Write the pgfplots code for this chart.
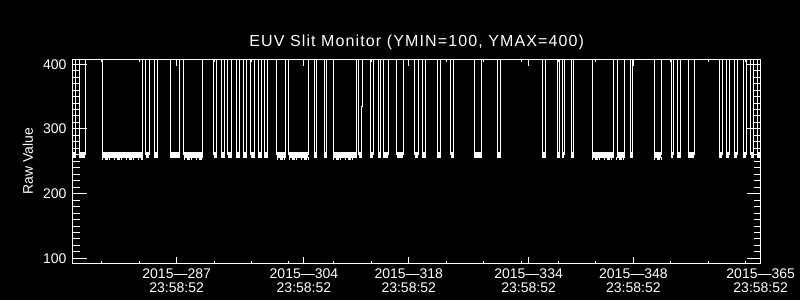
\documentclass[border=0pt]{standalone}
\usepackage{pgfplots}
\usepackage{pgfplotstable}
\pgfplotsset{compat=1.18}
\usepackage{fontspec}
\setmainfont{Liberation Sans}
\newfontfamily\titlefont[LetterSpace=7]{Liberation Sans}

% square wave of the raw value (high state is above the plot range and clipped)
\pgfplotstableread{
x y
273.115 260
273.49 260
273.49 450
274.02 450
274.02 260
274.80 260
274.80 450
277.03 450
277.03 260
282.46 260
282.46 450
282.90 450
282.90 260
283.34 260
283.34 450
284.01 450
284.01 260
284.46 260
284.46 450
286.11 450
286.11 260
287.40 260
287.40 450
287.97 450
287.97 260
290.47 260
290.47 450
291.98 450
291.98 260
292.34 260
292.34 450
292.95 450
292.95 260
293.41 260
293.41 450
293.85 450
293.85 260
294.38 260
294.38 450
294.96 450
294.96 260
295.45 260
295.45 450
295.89 450
295.89 260
296.35 260
296.35 450
296.92 450
296.92 260
297.45 260
297.45 450
297.89 450
297.89 260
298.35 260
298.35 450
298.70 450
298.70 260
299.15 260
299.15 450
300.39 450
300.39 260
301.59 260
301.59 450
301.95 450
301.95 260
304.57 260
304.57 450
305.37 450
305.37 260
305.69 260
305.69 450
306.71 450
306.71 260
307.03 260
307.03 450
307.91 450
307.91 260
311.03 260
311.03 450
311.34 450
311.34 260
311.70 260
311.70 334
311.76 334
311.76 450
312.85 450
312.85 260
313.25 260
313.25 450
313.92 450
313.92 260
314.24 260
314.24 450
314.58 450
314.58 260
315.25 260
315.25 450
316.37 450
316.37 260
317.25 260
317.25 450
318.82 450
318.82 260
319.28 260
319.28 450
319.79 450
319.79 260
320.24 260
320.24 450
321.79 450
321.79 260
322.25 260
322.25 450
323.58 450
323.58 260
323.98 260
323.98 450
326.73 450
326.73 260
327.72 260
327.72 450
329.80 450
329.80 260
330.26 260
330.26 450
335.81 450
335.81 260
336.27 260
336.27 450
337.81 450
337.81 260
338.18 260
338.18 450
338.48 450
338.48 260
338.75 260
338.75 450
339.68 450
339.68 260
340.00 260
340.00 450
342.49 450
342.49 260
345.34 260
345.34 450
345.83 450
345.83 260
346.85 260
346.85 450
347.56 450
347.56 260
347.92 260
347.92 450
350.76 450
350.76 260
351.75 260
351.75 450
353.03 450
353.03 260
353.35 260
353.35 450
353.83 450
353.83 260
354.29 260
354.29 450
355.30 450
355.30 260
356.11 260
356.11 450
359.44 450
359.44 260
359.84 260
359.84 450
360.38 450
360.38 260
360.83 260
360.83 450
361.45 450
361.45 260
361.85 260
361.85 450
362.65 450
362.65 260
363.10 260
363.10 450
363.68 450
363.68 260
364.04 260
364.04 450
364.55 450
364.55 260
365.00 260
}\wave

% low-state segments (noisy band around 255-265)
\pgfplotstableread{
x y
273.115 259.6
273.49 259.6
nan nan
274.02 259.6
274.80 259.6
nan nan
277.03 259.6
282.46 259.6
nan nan
282.90 259.6
283.34 259.6
nan nan
284.01 259.6
284.46 259.6
nan nan
286.11 259.6
287.40 259.6
nan nan
287.97 259.6
290.47 259.6
nan nan
291.98 259.6
292.34 259.6
nan nan
292.95 259.6
293.41 259.6
nan nan
293.85 259.6
294.38 259.6
nan nan
294.96 259.6
295.45 259.6
nan nan
295.89 259.6
296.35 259.6
nan nan
296.92 259.6
297.45 259.6
nan nan
297.89 259.6
298.35 259.6
nan nan
298.70 259.6
299.15 259.6
nan nan
300.39 259.6
301.59 259.6
nan nan
301.95 259.6
304.57 259.6
nan nan
305.37 259.6
305.69 259.6
nan nan
306.71 259.6
307.03 259.6
nan nan
307.91 259.6
311.03 259.6
nan nan
311.34 259.6
311.70 259.6
nan nan
312.85 259.6
313.25 259.6
nan nan
313.92 259.6
314.24 259.6
nan nan
314.58 259.6
315.25 259.6
nan nan
316.37 259.6
317.25 259.6
nan nan
318.82 259.6
319.28 259.6
nan nan
319.79 259.6
320.24 259.6
nan nan
321.79 259.6
322.25 259.6
nan nan
323.58 259.6
323.98 259.6
nan nan
326.73 259.6
327.72 259.6
nan nan
329.80 259.6
330.26 259.6
nan nan
335.81 259.6
336.27 259.6
nan nan
337.81 259.6
338.18 259.6
nan nan
338.48 259.6
338.75 259.6
nan nan
339.68 259.6
340.00 259.6
nan nan
342.49 259.6
345.34 259.6
nan nan
345.83 259.6
346.85 259.6
nan nan
347.56 259.6
347.92 259.6
nan nan
350.76 259.6
351.75 259.6
nan nan
353.03 259.6
353.35 259.6
nan nan
353.83 259.6
354.29 259.6
nan nan
355.30 259.6
356.11 259.6
nan nan
359.44 259.6
359.84 259.6
nan nan
360.38 259.6
360.83 259.6
nan nan
361.45 259.6
361.85 259.6
nan nan
362.65 259.6
363.10 259.6
nan nan
363.68 259.6
364.04 259.6
nan nan
364.55 259.6
365.00 259.6
}\band

% ragged lower edge of the long low-state stretches
\pgfplotstableread{
x y
277.03 254
282.46 254
nan nan
287.97 254
290.47 254
nan nan
300.39 254
304.57 254
nan nan
307.91 254
311.03 254
nan nan
342.49 254
346.85 254
nan nan
350.76 254
351.75 254
}\ragged

\begin{document}
\begin{tikzpicture}
\fill[black] (0,0) rectangle (800pt,300pt);
\begin{axis}[
  at={(72.7pt,36.7pt)}, anchor=south west,
  scale only axis, width=688pt, height=204pt,
  xmin=273.115, xmax=365, ymin=92.4, ymax=407.6,
  axis line style={white, line width=1pt},
  tick style={white, line width=1pt},
  tick align=inside,
  major tick length=6.7pt, minor tick length=2.8pt,
  xtick={287,304,318,334,348,365},
  minor xtick={277,282,292,297,302,308,313,323,328,333,338,343,353,358,363},
  xticklabels={{2015—287\\23:58:52},{2015—304\\23:58:52},{2015—318\\23:58:52},{2015—334\\23:58:52},{2015—348\\23:58:52},{2015—365\\23:58:52}},
  xticklabel style={align=center, inner sep=0pt, anchor=north, yshift=-5pt, text=white, font=\fontsize{14}{14.4}\selectfont},
  ytick=\empty,
  title={\titlefont EUV Slit Monitor (YMIN=100, YMAX=400)},
  title style={at={(axis description cs:0.5,1)}, anchor=base, yshift=7pt, text=white, inner sep=0pt, font=\fontsize{16}{16}\selectfont},
  unbounded coords=jump,
  clip=true,
]
\addplot[white, line width=1pt, mark=none] table[x=x, y=y] {\wave};
\addplot[white, line width=6pt, mark=none] table[x=x, y=y] {\band};
\addplot[white, line width=3pt, mark=none, dash pattern=on 1pt off 2pt on 3pt off 1pt on 1pt off 4pt] table[x=x, y=y] {\ragged};
\end{axis}
\begin{axis}[
  at={(72.7pt,36.7pt)}, anchor=south west,
  scale only axis, width=688pt, height=204pt,
  xmin=273.115, xmax=365, ymin=92.4, ymax=407.6,
  axis line style={white, line width=1pt},
  tick style={white, line width=1pt},
  tick align=inside,
  major tick length=14pt, minor tick length=7pt,
  xtick=\empty,
  ytick={100,200,300,400},
  minor y tick num=9,
  /pgf/number format/assume math mode=true,
  yticklabel style={inner sep=0pt, anchor=east, xshift=-6pt, text=white, font=\fontsize{14}{14}\selectfont},
  ylabel={Raw Value},
  every axis y label/.style={at={(axis description cs:-0.065,0.5)}, rotate=90, anchor=center, inner sep=0pt, text=white, font=\fontsize{14}{14}\selectfont},
]
\end{axis}
\pgfresetboundingbox
\path (0,0) rectangle (800pt,300pt);
\end{tikzpicture}
\end{document}
